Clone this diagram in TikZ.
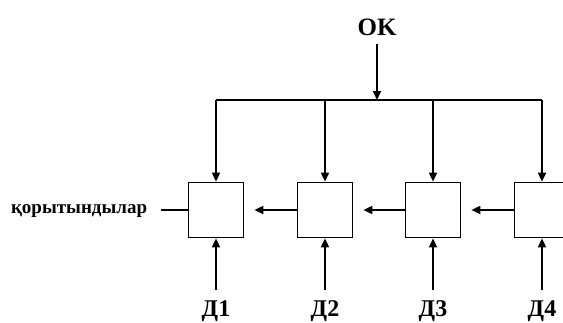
\documentclass[tikz,border=0pt]{standalone}
\usepackage{fontspec}
\setmainfont{Liberation Serif}
\usetikzlibrary{arrows.meta}
\begin{document}
\begin{tikzpicture}[x=1pt,y=-1pt,
  line width=1.7pt,
  arr/.style={-{Triangle[length=9pt,width=8pt]}},
  blk/.style={draw,minimum width=55pt,minimum height=55pt,inner sep=0pt},
  lbl/.style={font=\bfseries\fontsize{24}{26}\selectfont,inner sep=0pt,anchor=base}]
\useasboundingbox (0,0) rectangle (563,322);
\clip (0,0) rectangle (563,322);
\node[blk] (b1) at (216,210) {};
\node[blk] (b2) at (325,210) {};
\node[blk] (b3) at (433,210) {};
\node[blk] (b4) at (542,210) {};
\node[lbl,font=\bfseries\fontsize{25}{28}\selectfont] (ok) at (377,35) {OK};
\coordinate (top) at (377,44);
\coordinate (bus) at (377,100);
\coordinate (busL) at (216,100);
\coordinate (busR) at (542,100);
\draw[arr] (top) -- (bus);
\draw (busL) -- (busR);
\foreach \i in {1,2,3,4} {
  \draw[arr] (b\i.north |- bus) -- (b\i.north);
}
\node[lbl] (d1) at (216,316) {Д1};
\node[lbl] (d2) at (325,316) {Д2};
\node[lbl] (d3) at (433,316) {Д3};
\node[lbl] (d4) at (542,316) {Д4};
\foreach \i in {1,2,3,4} {
  \coordinate (s\i) at (b\i.south |- 0,290);
  \draw[arr] (s\i) -- (b\i.south);
}
\draw[arr] (b2.west) -- ([xshift=10pt]b1.east);
\draw[arr] (b3.west) -- ([xshift=10pt]b2.east);
\draw[arr] (b4.west) -- ([xshift=10pt]b3.east);
\node[font=\bfseries\fontsize{19}{21}\selectfont,inner sep=0pt,anchor=base east] (res) at (148,213) {қорытындылар};
\draw (b1.west) -- ++(-27,0);
\end{tikzpicture}
\end{document}
